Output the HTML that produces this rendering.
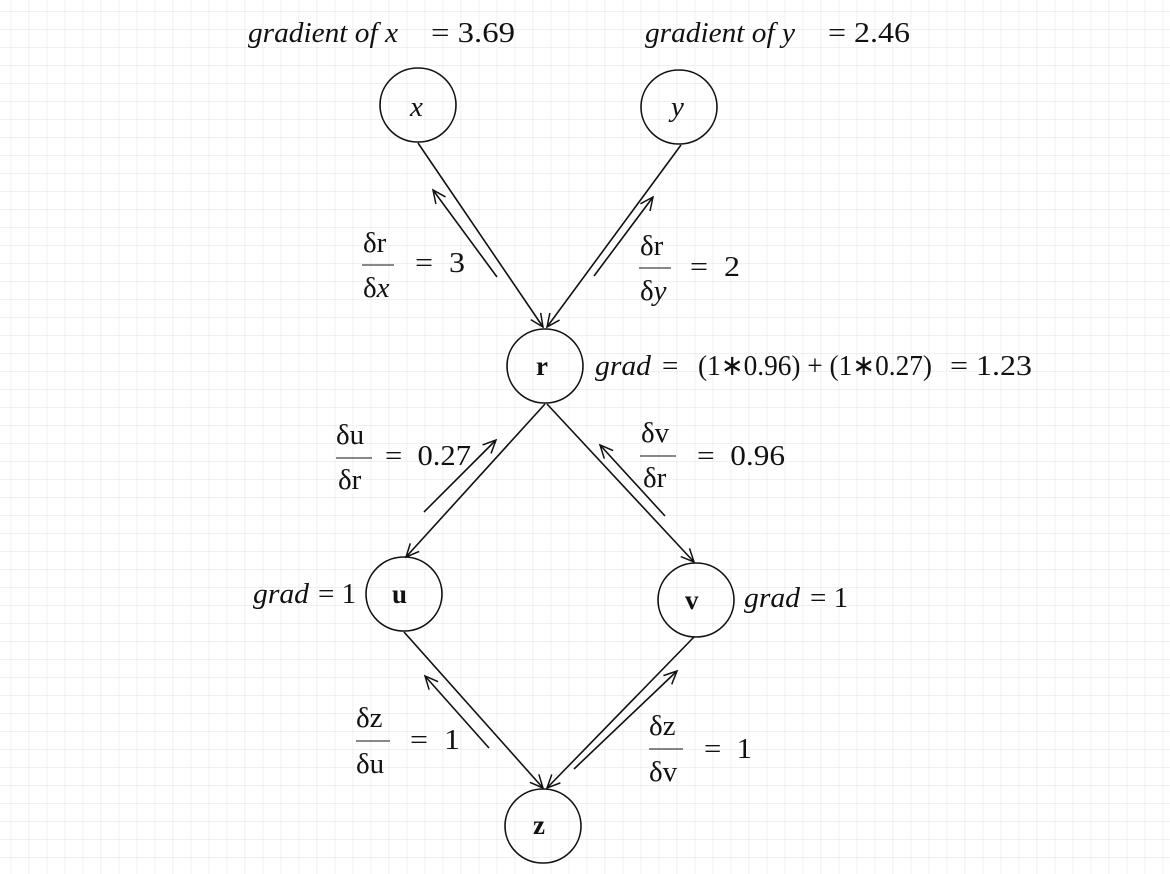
<!DOCTYPE html>
<html><head><meta charset="utf-8"><style>
html,body{margin:0;padding:0;background:#fff}
svg{display:block}
text{font-family:"Liberation Serif",serif;font-size:29px;fill:#111;white-space:pre}
.i{font-style:italic}
.b{font-weight:bold;font-size:27px}
</style></head><body>
<svg width="1170" height="874" xmlns="http://www.w3.org/2000/svg">
<defs>
<pattern id="g" x="10.7" y="11.3" width="18" height="18" patternUnits="userSpaceOnUse">
<path d="M0 0H18M0 0V18" stroke="#e2e2e2" stroke-width="1" fill="none"/>
</pattern>
<marker id="a" markerWidth="20" markerHeight="20" refX="14" refY="7" orient="auto" markerUnits="userSpaceOnUse">
<path d="M1 1L14 7L1 13" fill="none" stroke="#111" stroke-width="1.5"/>
</marker>
</defs>
<rect width="1170" height="874" fill="url(#g)"/>
<g fill="none" stroke="#111" stroke-width="1.6">
<ellipse cx="418" cy="105" rx="38" ry="37"/>
<ellipse cx="679" cy="107" rx="38" ry="37"/>
<ellipse cx="545" cy="366" rx="38" ry="37"/>
<ellipse cx="404" cy="594" rx="38" ry="37"/>
<ellipse cx="696" cy="600" rx="38" ry="37"/>
<ellipse cx="543" cy="826" rx="38" ry="37"/>
<line x1="418" y1="143" x2="543" y2="327" marker-end="url(#a)"/>
<line x1="497" y1="277" x2="433" y2="190" marker-end="url(#a)"/>
<line x1="681" y1="145" x2="547" y2="327" marker-end="url(#a)"/>
<line x1="594" y1="276" x2="653" y2="197" marker-end="url(#a)"/>
<line x1="545" y1="404" x2="406" y2="557" marker-end="url(#a)"/>
<line x1="424" y1="512" x2="496" y2="440" marker-end="url(#a)"/>
<line x1="547" y1="404" x2="694" y2="562" marker-end="url(#a)"/>
<line x1="665" y1="516" x2="600" y2="445" marker-end="url(#a)"/>
<line x1="404" y1="632" x2="543" y2="788" marker-end="url(#a)"/>
<line x1="489" y1="748" x2="425" y2="676" marker-end="url(#a)"/>
<line x1="694" y1="637" x2="547" y2="788" marker-end="url(#a)"/>
<line x1="574" y1="769" x2="677" y2="671" marker-end="url(#a)"/>
<line x1="362" y1="265" x2="394" y2="265" stroke-width="1"/>
<line x1="639" y1="268" x2="671" y2="268" stroke-width="1"/>
<line x1="336" y1="458" x2="372" y2="458" stroke-width="1"/>
<line x1="640" y1="456" x2="676" y2="456" stroke-width="1"/>
<line x1="356" y1="741" x2="390" y2="741" stroke-width="1"/>
<line x1="649" y1="749" x2="683" y2="749" stroke-width="1"/>
</g>
<text x="248" y="42" class="i" textLength="150" lengthAdjust="spacingAndGlyphs">gradient of x</text><text x="431" y="42" textLength="84" lengthAdjust="spacingAndGlyphs">= 3.69</text>
<text x="645" y="42" class="i" textLength="150" lengthAdjust="spacingAndGlyphs">gradient of y</text><text x="828" y="42" textLength="82" lengthAdjust="spacingAndGlyphs">= 2.46</text>
<text x="410" y="116" class="i">x</text>
<text x="671" y="116" class="i">y</text>
<text x="536" y="375" class="b">r</text>
<text x="392" y="603" class="b">u</text>
<text x="685" y="609" class="b">v</text>
<text x="533" y="834" class="b">z</text>
<text x="363" y="252">δr</text><text x="363" y="297">δ<tspan class="i">x</tspan></text><text x="415" y="272" textLength="50" lengthAdjust="spacingAndGlyphs">=  3</text>
<text x="640" y="255">δr</text><text x="640" y="300">δ<tspan class="i">y</tspan></text><text x="690" y="276" textLength="50" lengthAdjust="spacingAndGlyphs">=  2</text>
<text x="336" y="444">δu</text><text x="338" y="489">δr</text><text x="385" y="465" textLength="86" lengthAdjust="spacingAndGlyphs">=  0.27</text>
<text x="641" y="442">δv</text><text x="643" y="487">δr</text><text x="697" y="465" textLength="88" lengthAdjust="spacingAndGlyphs">=  0.96</text>
<text x="356" y="727">δz</text><text x="356" y="773">δu</text><text x="410" y="749" textLength="50" lengthAdjust="spacingAndGlyphs">=  1</text>
<text x="649" y="735">δz</text><text x="649" y="781">δv</text><text x="704" y="758" textLength="48" lengthAdjust="spacingAndGlyphs">=  1</text>
<text x="595" y="375" class="i" textLength="56" lengthAdjust="spacingAndGlyphs">grad</text><text x="662" y="375">=</text>
<text x="698" y="375" textLength="234" lengthAdjust="spacingAndGlyphs">(1∗0.96) + (1∗0.27)</text><text x="950" y="375" textLength="82" lengthAdjust="spacingAndGlyphs">= 1.23</text>
<text x="253" y="603" class="i" textLength="56" lengthAdjust="spacingAndGlyphs">grad</text><text x="318" y="603">= 1</text>
<text x="744" y="607" class="i" textLength="56" lengthAdjust="spacingAndGlyphs">grad</text><text x="810" y="607">= 1</text>
</svg>
</body></html>
